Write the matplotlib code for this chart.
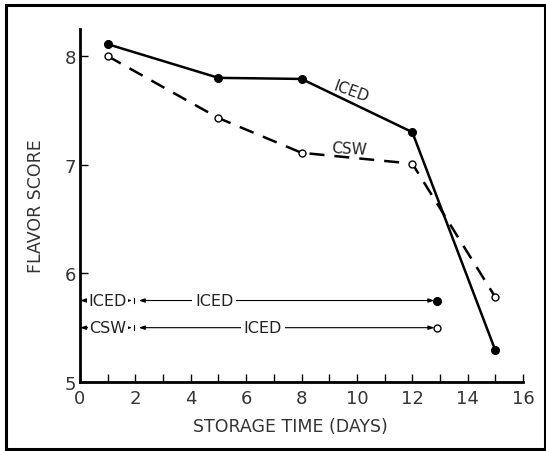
import matplotlib.pyplot as plt
from matplotlib.patches import Rectangle

# storage time (days) and flavor scores
days = [1, 5, 8, 12, 15]
iced = [8.11, 7.80, 7.79, 7.30, 5.29]
csw = [8.00, 7.43, 7.11, 7.01, 5.78]

# holding history rows: (y level, first phase, second phase, end marker filled?)
row_y = [5.75, 5.5]
row_first = ["ICED", "CSW"]
row_second = ["ICED", "ICED"]
row_filled = [True, False]
switch_day = 2.0
end_day = 12.9
second_label_x = [4.85, 6.6]

plt.rcParams['font.family'] = ['DejaVu Sans']
fig = plt.figure(figsize=(5.46, 4.52), dpi=100)
ax = fig.add_axes([0.1465, 0.1527, 0.8115, 0.781])

ax.plot(days, iced, color="black", lw=1.8, marker="o", ms=5.5,
        mfc="black", mec="black")
ax.plot(days, csw, color="black", lw=1.8, ls=(0, (6, 4)), marker="o",
        ms=5, mfc="white", mec="black", mew=1)

ax.text(9.8, 7.68, "ICED", rotation=-20, fontsize=11, ha="center",
        va="center", color="#222222")
ax.text(9.7, 7.15, "CSW", rotation=-3, fontsize=11, ha="center",
        va="center", color="#222222")

arrow = dict(arrowstyle="<|-|>,head_length=0.35,head_width=0.12",
             color="black", lw=0.8, shrinkA=0, shrinkB=0)
for y, a, b, filled, bx in zip(row_y, row_first, row_second, row_filled,
                               second_label_x):
    ax.annotate("", xy=(0, y), xytext=(switch_day - 0.12, y),
                arrowprops=arrow)
    ax.annotate("", xy=(switch_day + 0.12, y), xytext=(end_day - 0.1, y),
                arrowprops=arrow)
    ax.plot([switch_day - 0.05, switch_day - 0.05], [y - 0.025, y + 0.025],
            color="black", lw=0.8)
    ax.text(1.0, y, a, fontsize=11.5, ha="center", va="center",
            color="#222222",
            bbox=dict(facecolor="white", edgecolor="none", pad=1))
    ax.text(bx, y, b, fontsize=11.5, ha="center", va="center",
            color="#222222",
            bbox=dict(facecolor="white", edgecolor="none", pad=2))
    ax.plot(end_day, y, marker="o", ms=5.5 if filled else 5,
            mfc="black" if filled else "white", mec="black", mew=1)

ax.set_xlim(0, 16)
ax.set_ylim(5, 8.25)
ax.set_xticks(range(0, 17, 2))
ax.set_xticks(range(0, 17), minor=True)
ax.set_yticks([5, 6, 7, 8])
ax.tick_params(axis="both", direction="in", labelsize=13,
               labelcolor="#333333", width=1, length=6)
ax.tick_params(axis="x", which="minor", direction="in", length=6, width=1)
ax.tick_params(axis="y", pad=3)
ax.tick_params(axis="x", pad=5)
for s in ["top", "right"]:
    ax.spines[s].set_visible(False)
for s in ["left", "bottom"]:
    ax.spines[s].set_linewidth(2)

ax.set_xlabel("STORAGE TIME (DAYS)", fontsize=12.5, color="#333333",
              labelpad=8)
ax.xaxis.set_label_coords(0.475, -0.1)
ax.set_ylabel("FLAVOR SCORE", fontsize=12.5, color="#333333", labelpad=14)

fig.patches.append(Rectangle((0.011, 0.004), 0.987, 0.982,
                             transform=fig.transFigure, fill=False,
                             edgecolor="black", lw=2.2))

fig.savefig("out.png", dpi=100)
